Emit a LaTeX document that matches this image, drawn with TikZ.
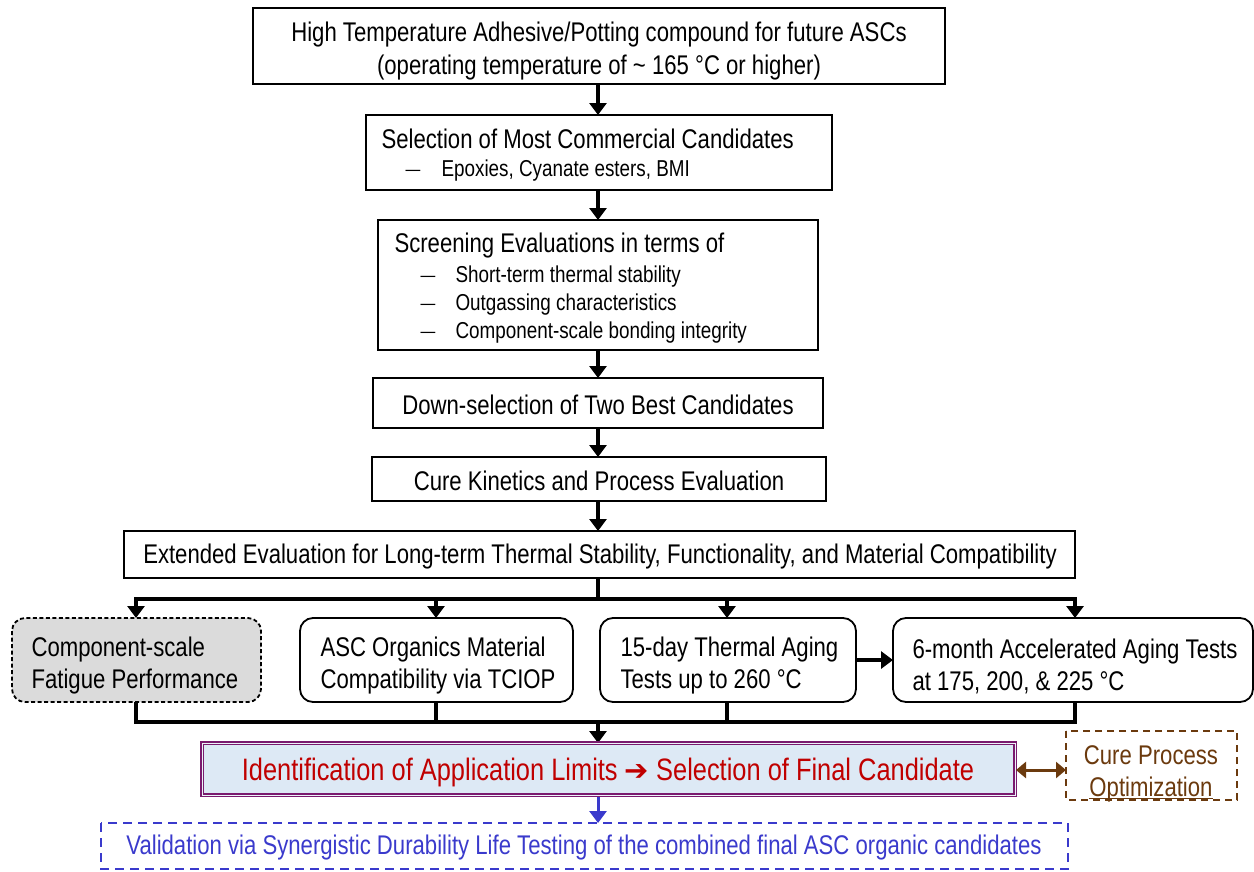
\documentclass[tikz,border=0pt]{standalone}
\usepackage{fontspec}
\setmainfont[FakeStretch=0.82]{Liberation Sans}
\newfontfamily\symfont{DejaVu Sans}
\usetikzlibrary{arrows.meta,positioning}
\definecolor{idfill}{HTML}{DDE9F5}
\definecolor{idtext}{HTML}{C00000}
\definecolor{idborder}{HTML}{7A1A6E}
\definecolor{brn}{HTML}{6B3A0E}
\definecolor{blu}{HTML}{3A3ACC}
\begin{document}
\begin{tikzpicture}[x=1pt,y=-1pt,
  box/.style={draw,line width=1.8pt,inner sep=0pt},
  rbox/.style={box,rounded corners=13pt},
  arr/.style={line width=3.2pt,-{Triangle[length=12pt,width=17pt]}},
  ln/.style={line width=3.2pt},
  mtxt/.style={font=\fontsize{27}{32}\selectfont},
  txt/.style={font=\fontsize{27}{32}\selectfont,align=left,anchor=west},
  stxt/.style={font=\fontsize{23}{28}\selectfont,anchor=west},
  dtxt/.style={font=\fontsize{18}{28}\selectfont,anchor=west}]
\useasboundingbox (0,0) rectangle (1254,871);
% boxes
\draw[box] (253,8) rectangle (945,84);
\node[font=\fontsize{27}{33}\selectfont,align=center] (t1) at (599,51) {High Temperature Adhesive/Potting compound for future ASCs\\(operating temperature of \textasciitilde{} 165 °C or higher)};
\draw[box] (366,115) rectangle (832,190);
\node[txt] (t2) at (378,139) {Selection of Most Commercial Candidates};
\node[dtxt] (t2d) at (402,173) {—};
\node[stxt] (t2a) at (438,171) {Epoxies, Cyanate esters, BMI};
\draw[box] (378,220) rectangle (818,350);
\node[txt] (t3) at (391,246) {Screening Evaluations in terms of};
\node[dtxt] (t3d1) at (417,279) {—};
\node[stxt] (t3a) at (452,277) {Short-term thermal stability};
\node[dtxt] (t3d2) at (417,307) {—};
\node[stxt] (t3b) at (452,305) {Outgassing characteristics};
\node[dtxt] (t3d3) at (417,335) {—};
\node[stxt] (t3c) at (452,333) {Component-scale bonding integrity};
\draw[box] (373,378) rectangle (823,428);
\node[mtxt] (t4) at (598,405) {Down-selection of Two Best Candidates};
\draw[box] (372,457) rectangle (826,501);
\node[mtxt] (t5) at (599,481) {Cure Kinetics and Process Evaluation};
\draw[box] (124,531) rectangle (1075,578);
\node[mtxt] (t6) at (600,557) {Extended Evaluation for Long-term Thermal Stability, Functionality, and Material Compatibility};
% main arrows
\draw[arr] (598,84) -- (598,115);
\draw[arr] (598,190) -- (598,220);
\draw[arr] (598,350) -- (598,378);
\draw[arr] (598,428) -- (598,457);
\draw[arr] (598,501) -- (598,531);
% branch
\draw[ln] (598,578) -- (598,599);
\draw[ln] (134.4,599) -- (1076.6,599);
\draw[arr] (136,598) -- (136,618);
\draw[arr] (436,598) -- (436,618);
\draw[arr] (727,598) -- (727,618);
\draw[arr] (1075,598) -- (1075,618);
% branch boxes
\draw[box,rounded corners=13pt,fill=black!14,dash pattern=on 4pt off 2.5pt] (12,618) rectangle (261,702);
\node[txt] (c1) at (28,666) {Component-scale\\Fatigue Performance};
\draw[rbox] (300,618) rectangle (573,702);
\node[txt] (c2) at (317,666) {ASC Organics Material\\Compatibility via TCIOP};
\draw[rbox] (600,618) rectangle (856,702);
\node[txt] (c3) at (617,666) {15-day Thermal Aging\\Tests up to 260 °C};
\draw[rbox] (893,618) rectangle (1253,702);
\node[txt] (c4) at (909,666) {6-month Accelerated Aging Tests\\at 175, 200, \& 225 °C};
\draw[arr] (856,660) -- (893,660);
% collector
\draw[ln] (136,702) -- (136,722);
\draw[ln] (436,702) -- (436,722);
\draw[ln] (727,702) -- (727,722);
\draw[ln] (1075,702) -- (1075,722);
\draw[ln] (134.4,722) -- (1076.6,722);
\draw[arr] (598,721) -- (598,743);
% identification
\draw[draw=idborder,line width=3.5pt,fill=idfill] (202,743) rectangle (1015,795);
\draw[draw=idfill!50!white,line width=1pt] (202,743) rectangle (1015,795);
\node[font=\fontsize{31}{36}\selectfont,text=idtext] (id) at (608,772) {Identification of Application Limits {\symfont\fontsize{29}{30}\selectfont ➔} Selection of Final Candidate};
% cure process
\draw[draw=brn,line width=2.4pt,dash pattern=on 7pt off 5pt] (1066,731) rectangle (1237,800);
\node[font=\fontsize{27}{32}\selectfont,text=brn,align=center] (cp) at (1151,772) {Cure Process\\\underline{\smash{Optimization}}};
\draw[draw=brn,line width=3pt,{Triangle[length=10pt,width=16pt]}-{Triangle[length=10pt,width=16pt]}] (1016,770) -- (1066,770);
% validation
\draw[draw=blu,line width=2.2pt,dash pattern=on 9pt off 6pt] (101,823) rectangle (1068,869);
\node[font=\fontsize{27}{32}\selectfont,text=blu] (v) at (584,848) {Validation via Synergistic Durability Life Testing of the combined final ASC organic candidates};
\draw[draw=blu,line width=3pt,-{Triangle[length=12pt,width=17pt]}] (598,797) -- (598,823);
\end{tikzpicture}
\end{document}
